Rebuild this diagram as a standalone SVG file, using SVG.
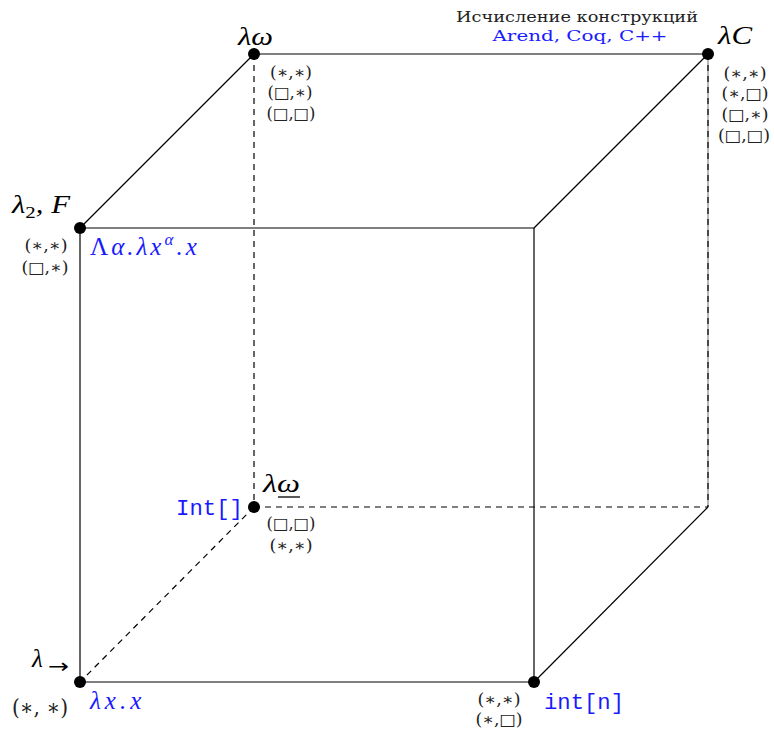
<svg xmlns="http://www.w3.org/2000/svg" width="774" height="732" viewBox="0 0 774 732">
<style>
.e{stroke:#000;stroke-width:1.2;fill:none}
.d{stroke:#000;stroke-width:1.2;fill:none;stroke-dasharray:6 5}
.s{font-family:"DejaVu Serif","DejaVu Sans",serif;fill:#222}
.m{font-family:"Liberation Serif","DejaVu Serif",serif;font-style:italic;fill:#000}
.r{font-size:16px;text-anchor:middle}
.b{fill:#1a1aff}
.t{font-family:"Liberation Mono","DejaVu Sans Mono",monospace;fill:#1a1aff}
</style>
<rect width="774" height="732" fill="#fff"/>
<g id="edges">
<line class="e" x1="80" y1="228" x2="534" y2="228"/>
<line class="e" x1="534" y1="228" x2="534" y2="682"/>
<line class="e" x1="80" y1="682" x2="534" y2="682"/>
<line class="e" x1="80" y1="228" x2="80" y2="682"/>
<line class="e" x1="80" y1="228" x2="254" y2="54"/>
<line class="e" x1="254" y1="54" x2="708" y2="54" stroke="#555"/>
<line class="e" x1="708" y1="54" x2="534" y2="228"/>
<line x1="708" y1="54" x2="708" y2="507" stroke="#888" stroke-width="1.2"/>
<line class="d" x1="708" y1="54" x2="708" y2="507"/>
<line class="e" x1="708" y1="507" x2="534" y2="682"/>
<line class="d" x1="254" y1="54" x2="254" y2="507"/>
<line class="d" x1="254" y1="507" x2="708" y2="507"/>
<line class="d" x1="254" y1="507" x2="80" y2="682"/>
</g>
<g id="lambda-omega">
<circle cx="254" cy="54" r="6"/>
<text class="m" x="238" y="45" font-size="25" textLength="35" lengthAdjust="spacingAndGlyphs">λω</text>
<text class="s r" x="291" y="78" textLength="42" lengthAdjust="spacingAndGlyphs">(∗,∗)</text>
<text class="s r" x="290" y="98" textLength="45" lengthAdjust="spacingAndGlyphs">(□,∗)</text>
<text class="s r" x="291" y="119" textLength="49" lengthAdjust="spacingAndGlyphs">(□,□)</text>
</g>
<g id="lambda-C">
<circle cx="708" cy="54" r="6"/>
<text class="m" x="718" y="44" font-size="25" textLength="34" lengthAdjust="spacingAndGlyphs">λC</text>
<text class="s r" x="745" y="79" textLength="43" lengthAdjust="spacingAndGlyphs">(∗,∗)</text>
<text class="s r" x="745" y="99" textLength="47" lengthAdjust="spacingAndGlyphs">(∗,□)</text>
<text class="s r" x="745" y="120" textLength="47" lengthAdjust="spacingAndGlyphs">(□,∗)</text>
<text class="s r" x="744" y="141" textLength="52" lengthAdjust="spacingAndGlyphs">(□,□)</text>
<text class="s" x="577" y="22" font-size="14" text-anchor="middle" textLength="242" lengthAdjust="spacingAndGlyphs">Исчисление конструкций</text>
<text class="s b" x="580" y="41" font-size="14" text-anchor="middle" textLength="175" lengthAdjust="spacingAndGlyphs">Arend, Coq, C++</text>
</g>
<g id="lambda-2">
<circle cx="80" cy="228" r="6"/>
<text class="m" x="12" y="213" font-size="25" textLength="58" lengthAdjust="spacingAndGlyphs">λ<tspan font-style="normal" font-size="17" dy="5">2</tspan><tspan dy="-5">, F</tspan></text>
<text class="s r" x="46" y="251" textLength="43" lengthAdjust="spacingAndGlyphs">(∗,∗)</text>
<text class="s r" x="45" y="273" textLength="47" lengthAdjust="spacingAndGlyphs">(□,∗)</text>
<text class="m b" x="90" y="255" font-size="25" letter-spacing="3"><tspan font-style="normal">Λ</tspan>α.λx<tspan font-size="17" dy="-10">α</tspan><tspan dy="10">.x</tspan></text>
</g>
<g id="lambda-omega-underline">
<circle cx="254" cy="507" r="6"/>
<text class="m" x="263" y="492" font-size="25" textLength="37" lengthAdjust="spacingAndGlyphs">λω</text>
<line x1="278" y1="497" x2="300" y2="497" stroke="#000" stroke-width="1.3"/>
<text class="t" x="176" y="515" font-size="22" textLength="67" lengthAdjust="spacingAndGlyphs">Int[]</text>
<text class="s r" x="291" y="529" textLength="49" lengthAdjust="spacingAndGlyphs">(□,□)</text>
<text class="s r" x="291" y="551" textLength="43" lengthAdjust="spacingAndGlyphs">(∗,∗)</text>
</g>
<g id="lambda-arrow">
<circle cx="80" cy="682" r="6"/>
<text class="m" x="32" y="667" font-size="25">λ</text>
<text x="48" y="673" font-family="DejaVu Sans" font-size="20" textLength="21" lengthAdjust="spacingAndGlyphs">→</text>
<text class="s" x="12" y="715" font-size="22" textLength="56" lengthAdjust="spacingAndGlyphs">(∗, ∗)</text>
<text class="m b" x="90" y="709" font-size="25" letter-spacing="4">λx.x</text>
</g>
<g id="int-n">
<circle cx="534" cy="682" r="6"/>
<text class="s r" x="499" y="705" textLength="43" lengthAdjust="spacingAndGlyphs">(∗,∗)</text>
<text class="s r" x="499" y="725" textLength="47" lengthAdjust="spacingAndGlyphs">(∗,□)</text>
<text class="t" x="544" y="709" font-size="22" textLength="80" lengthAdjust="spacingAndGlyphs">int[n]</text>
</g>
</svg>
